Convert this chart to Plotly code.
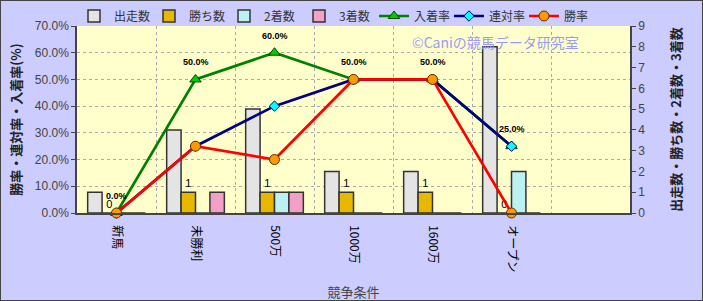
import plotly.graph_objects as go

categories = ["新馬", "未勝利", "500万", "1000万", "1600万", "オープン"]
starts = [1, 4, 5, 2, 2, 8]
wins = [0, 1, 1, 1, 1, 0]
seconds = [0, 0, 1, 0, 0, 2]
thirds = [0, 1, 1, 0, 0, 0]
place_rate = [0.0, 0.50, 0.60, 0.50, 0.50, 0.25]
rentai_rate = [0.0, 0.25, 0.40, 0.50, 0.50, 0.25]
win_rate = [0.0, 0.25, 0.20, 0.50, 0.50, 0.0]

W, H = 703, 301
PL, PR, PT, PB = 77, 630, 26, 213      # plot-area edges in px
PW, PH = PR - PL, PB - PT

JP = "Noto Sans CJK JP"
fig = go.Figure()

bar_specs = [
    ("出走数", starts, "#E4E4E4", False),
    ("勝ち数", wins, "#E8B800", True),
    ("2着数", seconds, "#BDF0F0", False),
    ("3着数", thirds, "#F2A0C8", False),
]
for name, vals, col, lab in bar_specs:
    fig.add_trace(go.Bar(
        x=categories, y=vals, name=name, yaxis="y",
        marker=dict(color=col, line=dict(color="#333333", width=1.5)),
        text=[str(v) for v in vals] if lab else None,
        textposition="outside" if lab else None,
        textfont=dict(family="Liberation Sans", size=11, color="#000000"),
        cliponaxis=False, hoverinfo="skip",
    ))

line_specs = [
    ("入着率", place_rate, "#008000", "triangle-up", "#00CC00", "#004400", 10),
    ("連対率", rentai_rate, "#000080", "diamond", "#00FFFF", "#000060", 8),
    ("勝率", win_rate, "#FF0000", "circle", "#FF9900", "#553300", 10),
]
for name, vals, lc, sym, fc, oc, sz in line_specs:
    fig.add_trace(go.Scatter(
        x=categories, y=vals, name=name, yaxis="y2", mode="lines+markers",
        line=dict(color=lc, width=2.7),
        marker=dict(symbol=sym, size=sz, color=fc, line=dict(color=oc, width=1)),
        cliponaxis=False, hoverinfo="skip",
    ))

annotations = []
for c, v in zip(categories, place_rate):
    annotations.append(dict(
        x=c, y=v, xref="x", yref="y2", text="<b>%.1f%%</b>" % (v * 100),
        showarrow=False, yshift=17,
        font=dict(family="Liberation Sans", size=9, color="#000000"),
    ))
annotations.append(dict(
    x=495 / W, y=1 - 42 / H, xref="paper", yref="paper",
    xanchor="center", yanchor="middle",
    text="©Caniの競馬データ研究室", showarrow=False,
    font=dict(family=JP, size=14, color="#9C9CF4"),
))

fig.update_layout(
    width=W, height=H,
    margin=dict(l=0, r=0, t=0, b=0),
    paper_bgcolor="#CCCCFF", plot_bgcolor="#FFFFCC",
    barmode="group", bargap=0.27, bargroupgap=0,
    font=dict(family=JP, size=12, color="#333333"),
    showlegend=True,
    legend=dict(orientation="h", x=74 / W, y=1 - 16 / H,
                xanchor="left", yanchor="middle", bgcolor="rgba(0,0,0,0)",
                font=dict(family=JP, size=12, color="#333333"),
                entrywidth=30, itemwidth=30, traceorder="normal"),
    xaxis=dict(
        domain=[PL / W, PR / W],
        type="category", categoryorder="array", categoryarray=categories,
        range=[-0.5, 6.5], tickson="boundaries", tickangle=90,
        showgrid=True, gridcolor="#AAAAAA", griddash="dot", gridwidth=1,
        showline=True, linecolor="#444444", linewidth=1.5,
        ticks="", ticklabelstandoff=8, automargin=False,
        tickfont=dict(family=JP, size=12, color="#000000"),
        title=dict(text="競争条件", font=dict(family=JP, size=13, color="#444444"), standoff=18),
    ),
    yaxis=dict(
        domain=[1 - PB / H, 1 - PT / H],
        side="right", range=[0, 9], dtick=1, showgrid=False,
        showline=True, linecolor="#444444", linewidth=1.5, automargin=False,
        ticks="outside", ticklen=4, tickcolor="#444444",
        tickfont=dict(family="Liberation Sans", size=12, color="#444444"),
        title=dict(text="<b>出走数・勝ち数・2着数・3着数</b>",
                   font=dict(family=JP, size=13, color="#222222"), standoff=28),
        zeroline=False,
    ),
    yaxis2=dict(
        overlaying="y", side="left", range=[0, 0.7], dtick=0.1, tickformat=".1%",
        showgrid=True, gridcolor="#AAAAAA", griddash="dot", gridwidth=1,
        showline=True, linecolor="#444444", linewidth=1.5, automargin=False,
        ticks="outside", ticklen=4, tickcolor="#444444",
        tickfont=dict(family="Liberation Sans", size=12, color="#444444"),
        title=dict(text="<b>勝率・連対率・入着率(%)</b>",
                   font=dict(family=JP, size=13, color="#222222"), standoff=10),
        zeroline=False,
    ),
    annotations=annotations,
    shapes=[dict(type="rect", xref="paper", yref="paper",
                 x0=0, x1=1, y0=0, y1=1,
                 line=dict(color="#444444", width=2), layer="above")],
)

fig.write_html("out.html")
